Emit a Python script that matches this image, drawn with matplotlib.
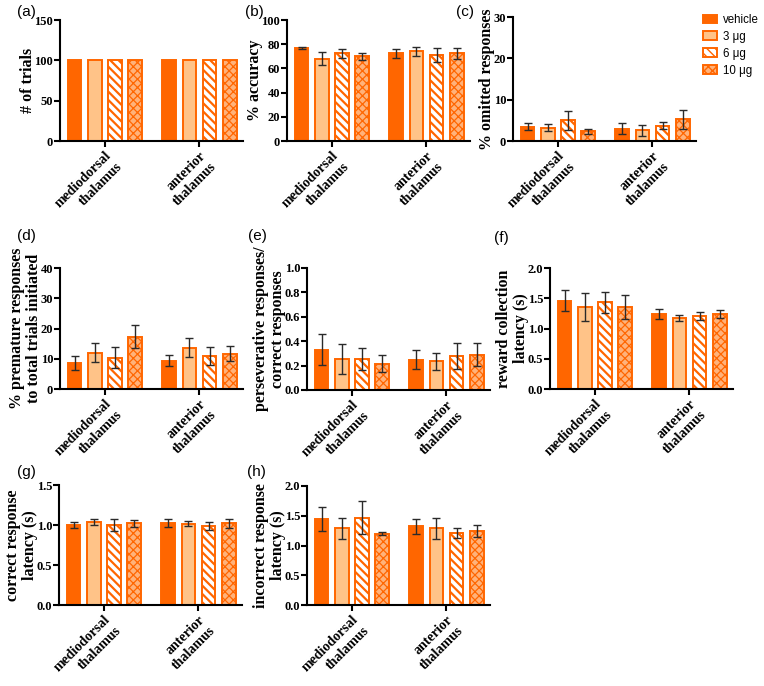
import numpy as np
import matplotlib
matplotlib.use("Agg")
import matplotlib.pyplot as plt
from matplotlib.patches import Patch

plt.rcParams.update({
    "font.family": "Liberation Serif", "font.weight": "bold",
    "axes.linewidth": 1.5, "xtick.major.width": 1.5, "ytick.major.width": 1.5,
    "xtick.major.size": 4, "ytick.major.size": 4,
})

ORANGE = "#FF6600"
LIGHT = "#FFC388"
CHECK_BG = "#FFB27A"

regions = ["mediodorsal\nthalamus", "anterior\nthalamus"]
doses = ["vehicle", "3 \u03bcg", "6 \u03bcg", "10 \u03bcg"]

# values per panel: [mediodorsal x4, anterior x4]
trials_mean = [100, 100, 100, 100, 100, 100, 100, 100]
trials_err = [0, 0, 0, 0, 0, 0, 0, 0]
acc_mean = [77, 68, 72.5, 70, 72.5, 74, 71, 72.5]
acc_err = [1, 5.5, 3.5, 3, 3.5, 4, 6, 4.5]
omit_mean = [3.5, 3.2, 5.0, 2.3, 3.0, 2.6, 3.7, 5.3]
omit_err = [0.8, 0.9, 2.3, 0.6, 1.3, 1.3, 0.8, 2.3]
prem_mean = [8.5, 12.0, 10.3, 17.3, 9.3, 13.7, 10.8, 11.7]
prem_err = [2.3, 3.2, 3.5, 3.8, 1.8, 3.2, 3.0, 2.5]
pers_mean = [0.33, 0.255, 0.255, 0.215, 0.25, 0.235, 0.28, 0.29]
pers_err = [0.125, 0.12, 0.09, 0.07, 0.08, 0.07, 0.105, 0.095]
rew_mean = [1.46, 1.35, 1.43, 1.36, 1.24, 1.17, 1.21, 1.24]
rew_err = [0.17, 0.23, 0.17, 0.20, 0.08, 0.05, 0.07, 0.07]
corr_mean = [1.0, 1.04, 1.0, 1.02, 1.03, 1.015, 0.99, 1.02]
corr_err = [0.04, 0.04, 0.07, 0.04, 0.05, 0.03, 0.05, 0.06]
inc_mean = [1.45, 1.29, 1.47, 1.20, 1.32, 1.29, 1.21, 1.25]
inc_err = [0.20, 0.18, 0.28, 0.03, 0.13, 0.18, 0.09, 0.10]

STYLE = [
    dict(facecolor=ORANGE, edgecolor=ORANGE, hatch=None, hlw=1.0),
    dict(facecolor=LIGHT, edgecolor=ORANGE, hatch=None, hlw=1.0),
    dict(facecolor="white", edgecolor=ORANGE, hatch="\\\\\\\\", hlw=1.6),
    dict(facecolor=CHECK_BG, edgecolor=ORANGE, hatch="xxxx", hlw=0.9),
]

GAP = 1.7
xpos = np.array([0, 1, 2, 3, 3 + GAP, 4 + GAP, 5 + GAP, 6 + GAP])
centers = [1.5, 4.5 + GAP]

W, H = 764, 686
fig = plt.figure(figsize=(W / 100, H / 100), dpi=100)


def px_axes(x0, y_top, y_bot, w=183):
    return fig.add_axes([x0 / W, 1 - y_bot / H, w / W, (y_bot - y_top) / H])


def panel(ax, mean, err, ylim, yticks, ylabel, fmt="{:g}", errbars=True):
    for k in range(8):
        st = STYLE[k % 4]
        with plt.rc_context({"hatch.linewidth": st["hlw"]}):
            ax.bar(xpos[k], mean[k], width=0.68, facecolor=st["facecolor"],
                   edgecolor=st["edgecolor"], hatch=st["hatch"], linewidth=1.4, zorder=2)
    if errbars:
        ax.errorbar(xpos, mean, yerr=err, fmt="none", ecolor="#2a2a2a",
                    elinewidth=1.0, capsize=3.2, capthick=1.0, zorder=3)
    ax.set_xlim(-0.72, xpos[-1] + 0.66)
    ax.set_ylim(*ylim)
    ax.set_yticks(yticks)
    ax.set_yticklabels([fmt.format(v) for v in yticks], fontsize=9, fontweight="bold")
    ax.set_xticks(centers)
    ax.set_xticklabels(regions, rotation=45, ha="right", va="top",
                       rotation_mode="anchor", multialignment="right",
                       fontsize=10, fontweight="bold", linespacing=1.2)
    ax.tick_params(axis="x", pad=2)
    ax.tick_params(axis="y", pad=1)
    ax.spines["top"].set_visible(False)
    ax.spines["right"].set_visible(False)
    ax.set_ylabel(ylabel, fontsize=11.5, fontweight="bold", labelpad=-1, linespacing=1.05)


axA = px_axes(60, 20, 141)
panel(axA, trials_mean, trials_err, (0, 150), [0, 50, 100, 150], "# of trials", errbars=False)
axB = px_axes(287, 20, 141)
panel(axB, acc_mean, acc_err, (0, 100), [0, 20, 40, 60, 80, 100], "% accuracy")
axC = px_axes(513, 17, 141)
panel(axC, omit_mean, omit_err, (0, 30), [0, 10, 20, 30], "% omitted responses")

axD = px_axes(60, 268, 389)
panel(axD, prem_mean, prem_err, (0, 40), [0, 10, 20, 30, 40],
      "% premature responses\nto total trials initiated")
axE = px_axes(307, 268, 390)
panel(axE, pers_mean, pers_err, (0, 1.0), [0, 0.2, 0.4, 0.6, 0.8, 1.0],
      "perseverative responses/\ncorrect responses", fmt="{:.1f}")
axF = px_axes(550, 268, 389)
panel(axF, rew_mean, rew_err, (0, 2.0), [0, 0.5, 1.0, 1.5, 2.0],
      "reward collection\nlatency (s)", fmt="{:.1f}")

axG = px_axes(59, 485, 605)
panel(axG, corr_mean, corr_err, (0, 1.5), [0, 0.5, 1.0, 1.5],
      "correct response\nlatency (s)", fmt="{:.1f}")
axH = px_axes(307, 486, 605)
panel(axH, inc_mean, inc_err, (0, 2.0), [0, 0.5, 1.0, 1.5, 2.0],
      "incorrect response\nlatency (s)", fmt="{:.1f}")

# panel letters
for lab, x, y in [("(a)", 17, 12), ("(b)", 245, 12), ("(c)", 456, 12),
                  ("(d)", 17, 236), ("(e)", 248, 236), ("(f)", 494, 238),
                  ("(g)", 17, 472), ("(h)", 247, 472)]:
    fig.text(x / W, 1 - y / H, lab, family="Liberation Sans", fontsize=11,
             fontweight="normal", ha="left", va="center")

handles = []
for s in STYLE:
    with plt.rc_context({"hatch.linewidth": s["hlw"]}):
        handles.append(Patch(facecolor=s["facecolor"], edgecolor=s["edgecolor"],
                             hatch=s["hatch"], linewidth=1.4))
fig.legend(handles, doses, loc="upper left", bbox_to_anchor=(703 / W, 1 - 14 / H),
           frameon=False, borderpad=0, borderaxespad=0,
           prop={"family": "Liberation Sans", "size": 8.3, "weight": "normal"},
           handlelength=1.2, handleheight=0.8, handletextpad=0.5, labelspacing=0.42)

fig.savefig("out.png", dpi=100)
